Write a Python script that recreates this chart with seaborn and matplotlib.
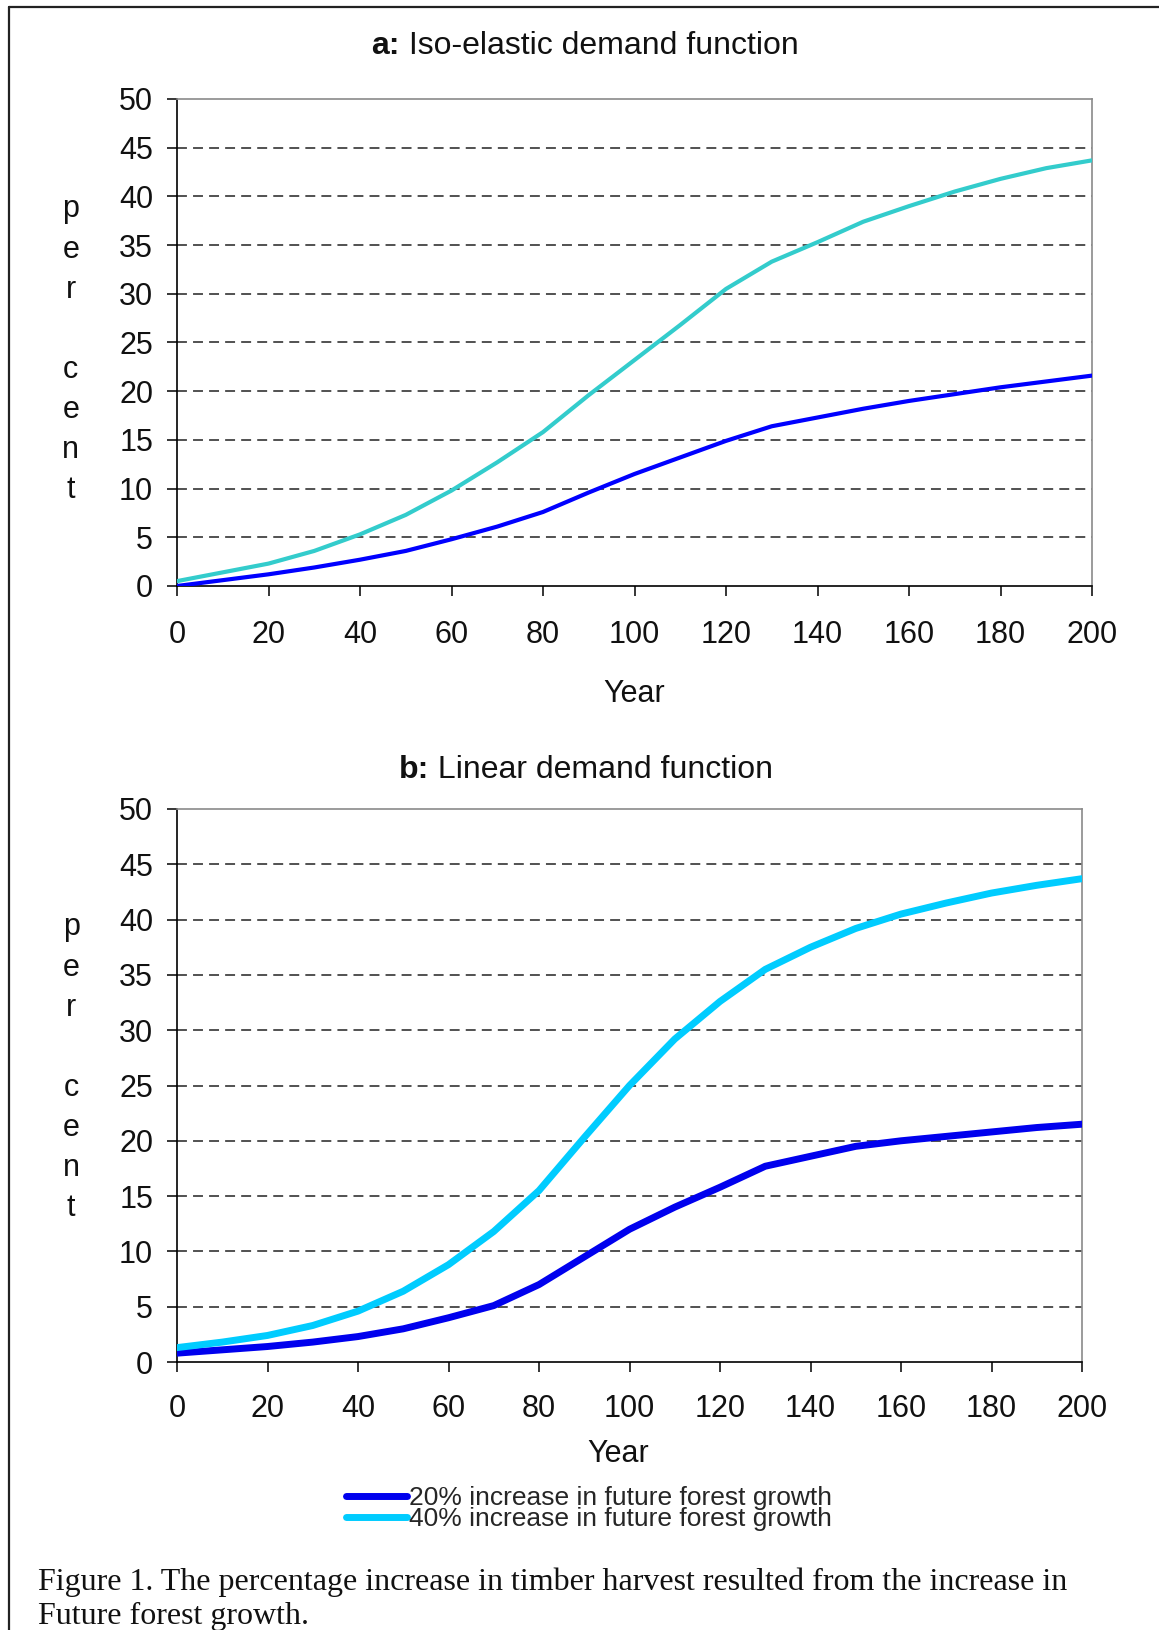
import matplotlib
matplotlib.use("Agg")
import matplotlib.pyplot as plt
import seaborn as sns
import pandas as pd
from matplotlib.lines import Line2D

# ---------------- data ----------------
years = [0, 10, 20, 30, 40, 50, 60, 70, 80, 90, 100,
         110, 120, 130, 140, 150, 160, 170, 180, 190, 200]

iso_20 = [0.0, 0.6, 1.2, 1.9, 2.7, 3.6, 4.8, 6.1, 7.6, 9.6, 11.5,
          13.2, 14.9, 16.4, 17.3, 18.2, 19.0, 19.7, 20.4, 21.0, 21.6]
iso_40 = [0.5, 1.4, 2.3, 3.6, 5.3, 7.3, 9.8, 12.7, 15.8, 19.6, 23.2,
          26.8, 30.5, 33.3, 35.3, 37.4, 39.0, 40.5, 41.8, 42.9, 43.7]

lin_20 = [0.8, 1.1, 1.4, 1.8, 2.3, 3.0, 4.0, 5.1, 7.0, 9.5, 12.0,
          14.0, 15.8, 17.7, 18.6, 19.5, 20.0, 20.4, 20.8, 21.2, 21.5]
lin_40 = [1.3, 1.8, 2.4, 3.3, 4.6, 6.4, 8.8, 11.8, 15.5, 20.3, 25.0,
          29.2, 32.6, 35.5, 37.5, 39.2, 40.5, 41.5, 42.4, 43.1, 43.7]

x_ticks = list(range(0, 201, 20))
y_ticks = list(range(0, 51, 5))
legend_labels = ["20% increase in future forest growth",
                 "40% increase in future forest growth"]
title_a = ("a:", " Iso-elastic demand function")
title_b = ("b:", " Linear demand function")
x_label = "Year"
y_label = "p\ne\nr\n\nc\ne\nn\nt"
caption = ["Figure 1. The percentage increase in timber harvest resulted from the increase in",
           "Future forest growth."]

# ---------------- style ----------------
sns.set_style("white")
plt.rcParams["font.family"] = ["Liberation Sans", "DejaVu Sans"]

W, H = 1159, 1630
fig = plt.figure(figsize=(W / 100, H / 100), dpi=100)


def rect(l, t, r, b):
    return [l / W, 1 - b / H, (r - l) / W, (b - t) / H]


axa = fig.add_axes(rect(177, 99, 1092, 586))
axb = fig.add_axes(rect(177, 809, 1082, 1362))

df_a = pd.DataFrame({"year": years, "s20": iso_20, "s40": iso_40})
df_b = pd.DataFrame({"year": years, "s20": lin_20, "s40": lin_40})

sns.lineplot(data=df_a, x="year", y="s20", ax=axa, color="#0000FF", lw=3.0, legend=False, zorder=3)
sns.lineplot(data=df_a, x="year", y="s40", ax=axa, color="#33CCCC", lw=3.0, legend=False, zorder=3)
sns.lineplot(data=df_b, x="year", y="s20", ax=axb, color="#0000EE", lw=5.0, legend=False, zorder=3)
sns.lineplot(data=df_b, x="year", y="s40", ax=axb, color="#00CCFF", lw=5.0, legend=False, zorder=3)

for ax, ylab_xy, xlab_xy, xpad in [(axa, (-0.116, 0.485), (0.5, -0.222), 17.5),
                                   (axb, (-0.117, 0.532), (0.488, -0.1665), 15.5)]:
    ax.set_xlim(0, 200)
    ax.set_ylim(0, 50)
    ax.set_xticks(x_ticks)
    ax.set_yticks(y_ticks)
    ax.tick_params(axis="both", direction="out", length=7.2, width=1.1,
                   color="black", labelsize=22, labelcolor="#111111",
                   bottom=True, left=True)
    ax.tick_params(axis="x", pad=xpad)
    ax.tick_params(axis="y", pad=10)
    ax.yaxis.grid(True, color="#222222", lw=1.1, ls=(0, (6.5, 4.0)))
    ax.xaxis.grid(False)
    gls = ax.get_ygridlines()
    gls[0].set_visible(False)
    gls[-1].set_visible(False)
    for s in ["left", "bottom"]:
        ax.spines[s].set_color("black")
        ax.spines[s].set_linewidth(1.2)
    for s in ["top", "right"]:
        ax.spines[s].set_color("#8a8a8a")
        ax.spines[s].set_linewidth(1.2)
    ax.set_xlabel(x_label, fontsize=22, color="#111111")
    ax.xaxis.set_label_coords(*xlab_xy)
    ax.xaxis.label.set_va("center")
    ax.set_ylabel(y_label, fontsize=22, rotation=0, linespacing=1.44, color="#111111")
    ax.yaxis.set_label_coords(*ylab_xy)
    ax.yaxis.label.set_va("center")
    ax.yaxis.label.set_ha("center")

# titles (bold prefix + regular text)
for (bold, rest), (x0, yc) in [(title_a, (371, 46)), (title_b, (399, 770))]:
    t1 = fig.text(x0 / W, 1 - yc / H, bold, fontsize=23, fontweight="bold",
                  ha="left", va="center", color="#111111")
    axa.annotate(rest, xy=(1, 0), xycoords=t1, ha="left", va="bottom",
                 fontsize=23, color="#111111", annotation_clip=False)

# legend using the panel b lines
fig.legend(handles=[axb.lines[0], axb.lines[1]], labels=legend_labels,
           loc="upper left", bbox_to_anchor=(346 / W, 1 - 1486 / H),
           frameon=False, fontsize=19, handlelength=2.3, handletextpad=0.1,
           labelspacing=-0.1, borderpad=0, borderaxespad=0)

# caption
fig.text(38.5 / W, 1 - 1582 / H, caption[0], family=["Liberation Serif"],
         fontsize=23, va="center", ha="left", color="#111111")
fig.text(38.5 / W, 1 - 1616 / H, caption[1], family=["Liberation Serif"],
         fontsize=23, va="center", ha="left", color="#111111")

# page frame
fig.add_artist(Line2D([8.5 / W, 8.5 / W], [0, 1 - 7 / H], color="#222222", lw=1.6,
                      transform=fig.transFigure))
fig.add_artist(Line2D([8.5 / W, 1], [1 - 7 / H, 1 - 7 / H], color="#222222", lw=1.6,
                      transform=fig.transFigure))

fig.savefig("out.png", dpi=100)
